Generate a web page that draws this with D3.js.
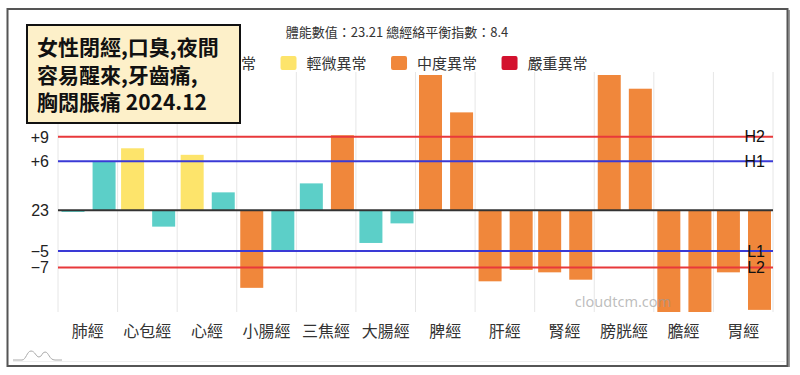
<!DOCTYPE html>
<html>
<head>
<meta charset="utf-8">
<script src="https://cdn.jsdelivr.net/npm/d3@7"></script>
<style>
  body { margin: 0; background: #fff; }
  svg { display: block; font-family: "Liberation Sans", "Noto Sans CJK TC", sans-serif; }
</style>
</head>
<body>
<svg id="chart"></svg>
<script>
// meridians, two bars each (left / right)
const categories = ["肺經", "心包經", "心經", "小腸經", "三焦經", "大腸經", "脾經", "肝經", "腎經", "膀胱經", "膽經", "胃經"];
const leftValues = [-0.2, 7.6, 6.8, -9.5, 3.3, -4.0, 18, -8.7, -7.6, 18, -14, -7.6];
const rightValues = [6.0, -2.0, 2.2, -4.9, 9.2, -1.6, 12.0, -7.3, -8.5, 14.9, -14, -12.2];
const leftLevels = ["n", "y", "y", "o", "n", "n", "o", "o", "o", "o", "o", "o"];
const rightLevels = ["n", "n", "n", "n", "o", "n", "o", "o", "o", "o", "o", "o"];

const legendLabels = ["正常", "輕微異常", "中度異常", "嚴重異常"];
const levelKeys = ["n", "y", "o", "r"];
const levelColors = { n: "#5ccfc8", y: "#fde46b", o: "#f0873b", r: "#d3112e" };

// reference lines
const refValues = [9, 6, -5, -7];
const refNames = ["H2", "H1", "L1", "L2"];
const refColors = ["#e8393b", "#3a3ad6", "#3a3ad6", "#e8393b"];
const tickValues = [9, 6, 0, -5, -7];
const tickLabels = ["+9", "+6", "23", "−5", "−7"];

const headline = "體能數值：23.21 總經絡平衡指數：8.4";
const noteLines = ["女性閉經,口臭,夜間", "容易醒來,牙齒痛,", "胸悶脹痛 2024.12"];

const W = 800, H = 375;
const margin = { top: 75, right: 27, bottom: 63, left: 58 };

const svg = d3.select("#chart").attr("width", W).attr("height", H);

const data = [];
categories.forEach((c, i) => {
  data.push({ cat: c, side: 0, v: leftValues[i], lvl: leftLevels[i] });
  data.push({ cat: c, side: 1, v: rightValues[i], lvl: rightLevels[i] });
});

const x = d3.scaleBand()
  .domain(categories)
  .range([margin.left, W - margin.right]);

const x1 = d3.scaleBand()
  .domain([0, 1])
  .range([3.5, x.bandwidth() - 2])
  .paddingInner(0.26);

const y = d3.scaleLinear()
  .domain([-12.46, 16.58])
  .range([H - margin.bottom, margin.top])
  .clamp(true);

// outer frame
svg.append("rect")
  .attr("x", 7.5).attr("y", 9).attr("width", 780).attr("height", 357)
  .attr("fill", "#fff").attr("stroke", "#555").attr("stroke-width", 2);
svg.append("line").attr("x1", 789).attr("x2", 789).attr("y1", 10).attr("y2", 367)
  .attr("stroke", "#777").attr("stroke-width", 1.5);

// faint footer line + little logo
svg.append("line").attr("x1", 13).attr("x2", 785).attr("y1", 361.5).attr("y2", 361.5)
  .attr("stroke", "#eee");
svg.append("path")
  .attr("d", "M13,360 L22,360 C26,360 27,351 31,351 C35,351 36,357 39,357 C42,357 42,352 45,352 C49,352 49,360 55,360 L62,360")
  .attr("fill", "none").attr("stroke", "#aaa").attr("stroke-width", 1);

// headline
svg.append("text")
  .attr("x", 397).attr("y", 37)
  .attr("text-anchor", "middle")
  .style("font-size", "13px").style("font-family", "'Noto Sans CJK TC', sans-serif")
  .attr("fill", "#333")
  .text(headline);

// legend
const legend = svg.append("g").style("font-family", "'Noto Sans CJK TC', sans-serif");
let lx = 200;
levelKeys.forEach((k, i) => {
  legend.append("rect")
    .attr("x", lx).attr("y", 56).attr("width", 16).attr("height", 14).attr("rx", 2)
    .attr("fill", levelColors[k]);
  const t = legend.append("text")
    .attr("x", lx + 26).attr("y", 69)
    .style("font-size", "15px").attr("fill", "#333")
    .text(legendLabels[i]);
  lx += 26 + t.node().getComputedTextLength() + 24.5;
});

// vertical grid
svg.append("g")
  .selectAll("line")
  .data(categories.map(c => x(c)).concat([W - margin.right]))
  .join("line")
  .attr("x1", d => d).attr("x2", d => d)
  .attr("y1", 72).attr("y2", H - margin.bottom)
  .attr("stroke", "#e6e6e6");

// bars
svg.append("g")
  .selectAll("rect")
  .data(data)
  .join("rect")
  .attr("x", d => x(d.cat) + x1(d.side))
  .attr("width", x1.bandwidth())
  .attr("y", d => y(Math.max(0, d.v)))
  .attr("height", d => Math.abs(y(d.v) - y(0)))
  .attr("fill", d => levelColors[d.lvl]);

// watermark, semi transparent over the bars
svg.append("text")
  .attr("x", 623).attr("y", 307)
  .attr("text-anchor", "middle")
  .style("font-size", "14.5px").style("font-family", "'Noto Sans', sans-serif")
  .attr("fill", "#999").attr("fill-opacity", 0.65)
  .text("cloudtcm.com");

// reference lines
refValues.forEach((v, i) => {
  svg.append("line")
    .attr("x1", margin.left).attr("x2", W - margin.right)
    .attr("y1", y(v)).attr("y2", y(v))
    .attr("stroke", refColors[i]).attr("stroke-width", 2);
  svg.append("text")
    .attr("x", 765).attr("y", y(v) + 5.5)
    .attr("text-anchor", "end")
    .style("font-size", "16px").attr("fill", "#111")
    .text(refNames[i]);
});

// zero line
svg.append("line")
  .attr("x1", margin.left).attr("x2", W - margin.right)
  .attr("y1", y(0)).attr("y2", y(0))
  .attr("stroke", "#333").attr("stroke-width", 2);

// y axis labels
svg.append("g")
  .selectAll("text")
  .data(tickValues)
  .join("text")
  .attr("x", 49).attr("y", d => y(d) + 6)
  .attr("text-anchor", "end")
  .style("font-size", "16px").attr("fill", "#222")
  .text((d, i) => tickLabels[i]);

// x axis labels
svg.append("g")
  .selectAll("text")
  .data(categories)
  .join("text")
  .attr("x", d => x(d) + x.bandwidth() / 2)
  .attr("y", 337)
  .attr("text-anchor", "middle")
  .style("font-size", "16px").style("font-family", "'Noto Sans CJK TC', sans-serif")
  .attr("fill", "#333")
  .text(d => d);

// note box
const note = svg.append("g");
note.append("rect")
  .attr("x", 27).attr("y", 25).attr("width", 213).attr("height", 98)
  .attr("fill", "#fdf0c9").attr("stroke", "#111").attr("stroke-width", 2);
note.selectAll("text")
  .data(noteLines)
  .join("text")
  .attr("x", 37).attr("y", (d, i) => 55 + i * 27.5)
  .style("font-size", "21px").style("font-weight", "bold")
  .style("font-family", "'Noto Sans CJK TC', sans-serif")
  .attr("fill", "#111")
  .text(d => d);
</script>
</body>
</html>
